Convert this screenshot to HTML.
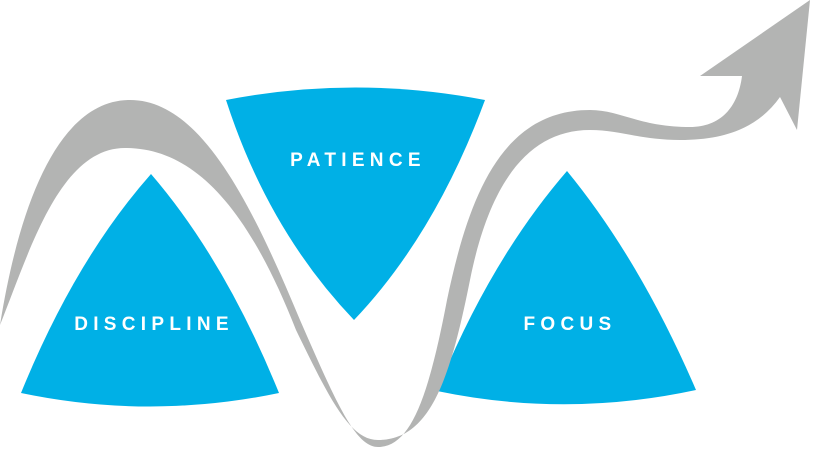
<!DOCTYPE html>
<html><head><style>
html,body{margin:0;padding:0;background:#fff;width:813px;height:452px;overflow:hidden}
text{font-family:"Liberation Sans",sans-serif;font-size:19px;font-weight:bold;fill:#fff;letter-spacing:5.3px}
</style></head><body>
<svg width="813" height="452" viewBox="0 0 813 452" xmlns="http://www.w3.org/2000/svg">
<g fill="#00b0e6">
<path d="M151,174 Q75,260 21,393 Q150,420 279,393 Q225,260 151,174 Z"/>
<path d="M226,100 Q355,75 485,100 Q435,235 354,320 Q268,230 226,100 Z"/>
<path d="M567,171 Q490,260 437,391 Q566,418 696,390 Q640,260 567,171 Z"/>
</g>
<path fill="#b3b4b3" d="M0,325 C20,200 60,100 130,100 C200,100 250,200 300,320 C335,400 355,447 378,447 C410,447 428,400 447,300 C468,200 500,110 590,110 C620,110 640,127 690,127 C720,127 738,108 742,76 L700,76 L810,0 L797,130 L780,97 C760,125 730,140 680,140 C640,140 620,130 590,130 C530,130 490,180 470,280 C450,380 430,440 378,440 C350,440 330,400 296,330 C245,200 190,148 125,148 C60,148 30,250 0,325 Z"/>
<text x="154" y="330" text-anchor="middle">DISCIPLINE</text>
<text x="358" y="166" text-anchor="middle">PATIENCE</text>
<text x="570" y="330" text-anchor="middle">FOCUS</text>
</svg>
</body></html>
